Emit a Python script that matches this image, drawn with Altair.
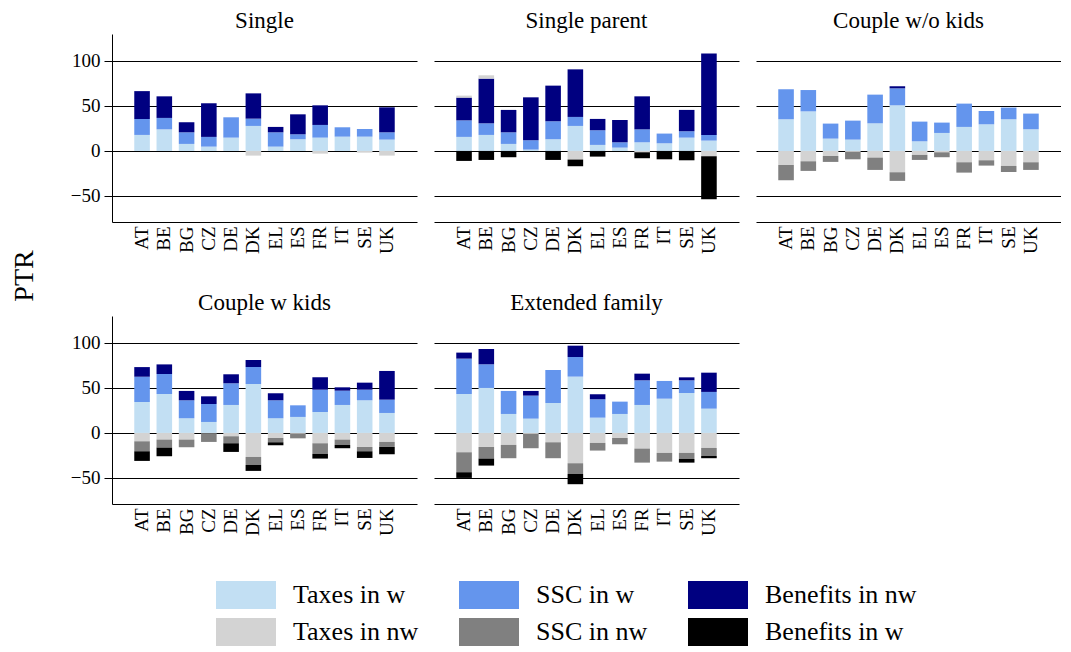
import altair as alt
import pandas as pd

countries = ["AT", "BE", "BG", "CZ", "DE", "DK", "EL", "ES", "FR", "IT", "SE", "UK"]
panels = ["Single", "Single parent", "Couple w/o kids", "Couple w kids", "Extended family"]
components = ["Taxes in w", "SSC in w", "Benefits in nw", "Taxes in nw", "SSC in nw", "Benefits in w"]
colors = ["#C2DFF3", "#6495ED", "#000080", "#D3D3D3", "#808080", "#000000"]

# Single
single_tax_w = [17.8, 24, 7.8, 4.8, 14.8, 27.8, 4.8, 13, 14.8, 15.9, 15.9, 12.6]
single_ssc_w = [17.7, 12.7, 12.9, 10.8, 22.6, 8.1, 15.9, 5.5, 14.1, 10.4, 8.5, 8.1]
single_ben_nw = [31, 24, 11.2, 37.4, 0, 28.1, 6, 22.2, 21.8, 0, 0, 27.8]
single_tax_nw = [0, 0, 0, 0, 0, -5.2, 0, 0, -3, 0, -1.9, -5.2]
single_ssc_nw = [0] * 12
single_ben_w = [0] * 12

# Single parent
sp_tax_w = [15.6, 17.8, 7.8, 1.5, 13, 27.8, 6.7, 3.7, 9.6, 8.5, 14.8, 11.5]
sp_ssc_w = [18.4, 12.9, 12.9, 10.4, 20, 10, 16.3, 5.9, 14.4, 10.8, 7.1, 6.3]
sp_ben_nw = [25.3, 49.7, 24.9, 47.7, 39.6, 52.9, 12.6, 24.8, 36.7, 0, 23.7, 90.4]
sp_tax_nw = [2.2, 3.7, 0, 0, 0, -9.6, 0, 0, -1.5, 0, 0, -5.9]
sp_ssc_nw = [0] * 12
sp_ben_w = [-11.1, -10, -7, 0, -10, -7.4, -6.3, 0, -6.6, -9.3, -10.4, -47.8]

# Couple w/o kids
cn_tax_w = [35.2, 44, 13.7, 12.6, 30.7, 50.7, 10.7, 20, 26.7, 29.6, 35.2, 24.1]
cn_ssc_w = [33.3, 23.7, 16.7, 21.1, 31.9, 18.9, 21.9, 11.5, 25.9, 14.8, 13, 17.4]
cn_ben_nw = [0, 0, 0, 0, 0, 2.3, 0, 0, 0, 0, 0, 0]
cn_tax_nw = [-15.6, -11.5, -5.6, -1.1, -7.4, -23.7, -4.4, -1.5, -12.6, -10.4, -16.7, -12.6]
cn_ssc_nw = [-17, -10.7, -6.6, -8.2, -13.7, -9.6, -5.6, -5.5, -11.5, -5.9, -6.7, -8.5]
cn_ben_w = [0] * 12

# Couple w kids
ck_tax_w = [34.4, 43.3, 16.3, 12.2, 31.1, 54.4, 16.3, 17.8, 23.3, 31.1, 36.3, 22.2]
ck_ssc_w = [28.1, 22.2, 20, 20, 24.1, 18.9, 20, 12.9, 24.8, 15.9, 11.8, 14.8]
ck_ben_nw = [10.7, 10.7, 10.4, 8.5, 10, 7.8, 7.8, 0, 13.8, 3.7, 7.8, 31.9]
ck_tax_nw = [-9.3, -7.4, -7.4, -0.5, -3.7, -26.7, -5.6, -1, -11.5, -7.4, -15.6, -10]
ck_ssc_nw = [-11.1, -8.9, -8.5, -9.5, -7.8, -8.9, -4.8, -5, -11.8, -5.9, -4.8, -5.6]
ck_ben_w = [-10.7, -9.6, 0, 0, -9.6, -6.6, -3.3, 0, -5.2, -3.7, -7.4, -8.1]

# Extended family
ef_tax_w = [43.3, 50, 21.1, 15.9, 33.3, 62.6, 17, 21.1, 31.1, 38.1, 44.4, 27]
ef_ssc_w = [39.3, 26.3, 25.6, 25.6, 36.7, 21.8, 20.4, 13.7, 27.4, 19.7, 14.1, 18.6]
ef_ben_nw = [6.7, 17, 0, 5.2, 0, 12.6, 5.6, 0, 7.4, 0, 3.3, 21.4]
ef_tax_nw = [-21.5, -15.6, -13.3, -1.1, -10.4, -33.7, -11.1, -5.6, -17.4, -22.2, -22.2, -16.7]
ef_ssc_nw = [-22.2, -12.9, -14.8, -15.9, -17.7, -11.9, -8.5, -7, -15.6, -9.7, -6.7, -8.9]
ef_ben_w = [-6.3, -7.8, 0, 0, 0, -11.4, 0, 0, 0, 0, -4.1, -2.5]

panel_data = {
    "Single": [single_tax_w, single_ssc_w, single_ben_nw, single_tax_nw, single_ssc_nw, single_ben_w],
    "Single parent": [sp_tax_w, sp_ssc_w, sp_ben_nw, sp_tax_nw, sp_ssc_nw, sp_ben_w],
    "Couple w/o kids": [cn_tax_w, cn_ssc_w, cn_ben_nw, cn_tax_nw, cn_ssc_nw, cn_ben_w],
    "Couple w kids": [ck_tax_w, ck_ssc_w, ck_ben_nw, ck_tax_nw, ck_ssc_nw, ck_ben_w],
    "Extended family": [ef_tax_w, ef_ssc_w, ef_ben_nw, ef_tax_nw, ef_ssc_nw, ef_ben_w],
}

rows = []
for p in panels:
    for ci, comp in enumerate(components):
        for k, c in enumerate(countries):
            v = panel_data[p][ci][k]
            if v != 0:
                rows.append({"panel": p, "country": c, "component": comp, "order": ci, "value": v})
df = pd.DataFrame(rows)

FONT = "Liberation Serif"

base = alt.Chart(df).mark_bar().encode(
    x=alt.X("country:N", sort=countries, title=None,
            scale=alt.Scale(paddingInner=0.3, paddingOuter=1.0),
            axis=alt.Axis(labelAngle=-90, ticks=False, domainColor="black", labelFontSize=19,
                          labelFont=FONT, labelColor="black", labelPadding=4, grid=False)),
    y=alt.Y("value:Q", title=None,
            scale=alt.Scale(domain=[-79, 130], nice=False, zero=False),
            axis=alt.Axis(values=[-50, 0, 50, 100], grid=True, gridColor="black", gridOpacity=1,
                          tickColor="black", tickSize=8, domainColor="black", labelFontSize=19,
                          labelFont=FONT, labelColor="black", labelPadding=4)),
    color=alt.Color("component:N", sort=components,
                    scale=alt.Scale(domain=components, range=colors),
                    legend=alt.Legend(title=None, orient="none", legendX=120, legendY=547,
                                      direction="horizontal",
                                      columns=3, columnPadding=39, rowPadding=9,
                                      symbolType="M-2.143,-1H2.143V1H-2.143Z", symbolSize=784,
                                      symbolStrokeWidth=0, labelFontSize=26, labelFont=FONT,
                                      labelColor="black", labelOffset=33, labelLimit=400)),
    order=alt.Order("order:Q", sort="ascending"),
).properties(width=305, height=188)

chart = base.facet(
    facet=alt.Facet("panel:N", sort=panels, title=None,
                    header=alt.Header(labelFontSize=23, labelFont=FONT, labelColor="black",
                                      labelPadding=1)),
    columns=3,
    spacing={"row": 38, "column": 17},
).resolve_axis(x="independent").properties(
    title=alt.TitleParams("PTR", orient="left", anchor="middle", fontSize=28, font=FONT,
                          fontWeight="normal", color="black", offset=31, dx=52),
).configure(
    font=FONT,
    padding={"left": 3, "top": 2, "right": 0, "bottom": 0},
).configure_view(stroke=None)

chart.save("out.html", embed_options={"renderer": "svg", "actions": False})
